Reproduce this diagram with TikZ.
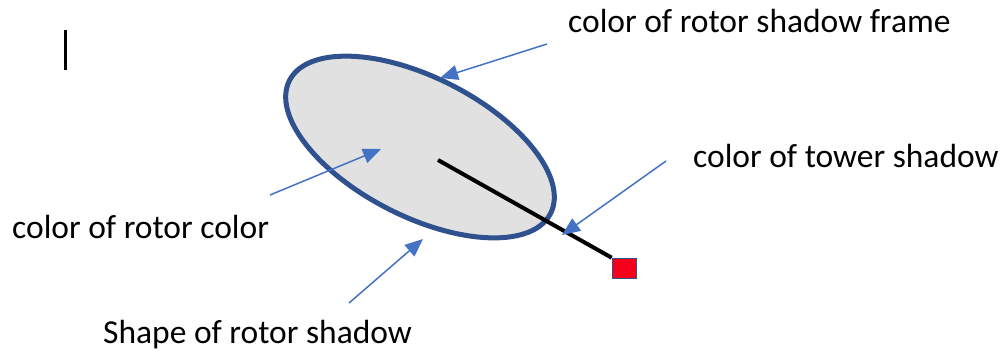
\documentclass[tikz,border=0pt]{standalone}
\usepackage{fontspec}
\setmainfont{Carlito}
\usetikzlibrary{shapes.geometric,arrows.meta}
\definecolor{frameblue}{HTML}{2F528F}
\definecolor{arrowblue}{HTML}{4472C4}
\definecolor{rotorgray}{HTML}{E1E1E1}
\definecolor{towerred}{HTML}{F5001A}
\tikzset{
  lbl/.style={anchor=base west,inner sep=0pt,font=\fontsize{33.5}{40}\selectfont},
  callout/.style={draw=arrowblue,line width=1.5pt,-{Triangle[length=18pt,width=15pt]}},
}
\begin{document}
\begin{tikzpicture}[x=1pt,y=-1pt]
\useasboundingbox (0,0) rectangle (1006,354);
% cursor
\coordinate (cur1) at (65.7,30);
\coordinate (cur2) at (65.7,70);
\draw[line width=2.6pt,black] (cur1) -- (cur2);
% rotor shadow
\node (rotor) [ellipse,draw=frameblue,fill=rotorgray,line width=5pt,
  minimum width=293pt,minimum height=139pt,inner sep=0pt,rotate=-27] at (420,147) {};
% tower shadow
\node (tower) [rectangle,draw=frameblue,fill=towerred,line width=1.6pt,
  minimum width=24pt,minimum height=20pt,inner sep=0pt] at (624.5,268.5) {};
\coordinate (hub) at (438,160);
\draw[line width=4pt,black] (hub) -- (tower.north west);
% labels
\node (tframe) [lbl] at (568,32) {color of rotor shadow frame};
\node (ttower) [lbl] at (693,167) {color of tower shadow};
\node (tcolor) [lbl] at (12,238) {color of rotor color};
\node (tshape) [lbl] at (103,343) {Shape of rotor shadow};
% callouts
\coordinate (s1) at (547,44);  \coordinate (e1) at (440,78);
\coordinate (s2) at (270,195); \coordinate (e2) at (381,149);
\coordinate (s3) at (666,161); \coordinate (e3) at (562,235);
\coordinate (s4) at (349,303); \coordinate (e4) at (423,239);
\draw[callout] (s1) -- (e1);
\draw[callout] (s2) -- (e2);
\draw[callout] (s3) -- (e3);
\draw[callout] (s4) -- (e4);
\end{tikzpicture}
\end{document}
